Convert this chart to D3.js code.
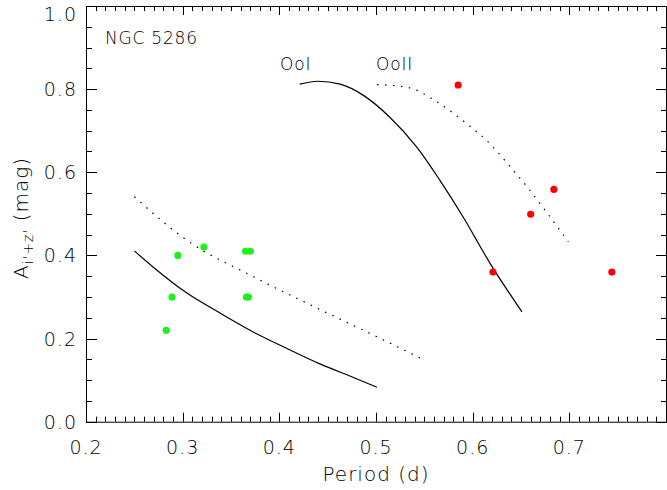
<!DOCTYPE html>
<html><head><meta charset="utf-8">
<script src="https://cdn.jsdelivr.net/npm/d3@7"></script>
<style>
html,body{margin:0;padding:0;background:#fff;}
svg{display:block;}
text{font-family:"DejaVu Sans",sans-serif;font-weight:200;fill:#000;}
</style></head>
<body>
<svg id="c" width="667" height="490"></svg>
<script>
// ---- data ----
const ooGreenPeriod = [0.283, 0.289, 0.295, 0.322, 0.365, 0.370, 0.366, 0.368];
const ooGreenAmp    = [0.22, 0.30, 0.40, 0.42, 0.41, 0.41, 0.30, 0.30];
const ooRedPeriod   = [0.585, 0.684, 0.660, 0.621, 0.744];
const ooRedAmp      = [0.81, 0.559, 0.499, 0.36, 0.36];
// OoI locus (solid, upper) sampled from the figure
const ooIUpperP = [0.421, 0.440, 0.463, 0.487, 0.514, 0.542, 0.566, 0.590, 0.618, 0.651];
const ooIUpperA = [0.812, 0.819, 0.812, 0.785, 0.733, 0.661, 0.581, 0.493, 0.381, 0.264];
// OoII locus (dotted, upper)
const ooIIUpperP = [0.501, 0.533, 0.564, 0.590, 0.616, 0.639, 0.659, 0.678, 0.699];
const ooIIUpperA = [0.811, 0.804, 0.768, 0.724, 0.673, 0.613, 0.557, 0.499, 0.433];
// lower solid curve
const lowSolidP = [0.250, 0.270, 0.304, 0.339, 0.373, 0.408, 0.442, 0.476, 0.501];
const lowSolidA = [0.411, 0.371, 0.310, 0.261, 0.216, 0.176, 0.139, 0.107, 0.083];
// lower dotted curve
const lowDotP = [0.250, 0.304, 0.373, 0.442, 0.495, 0.546];
const lowDotA = [0.541, 0.437, 0.349, 0.270, 0.211, 0.153];
const xTicks = [0.2, 0.3, 0.4, 0.5, 0.6, 0.7];
const yTicks = [0.0, 0.2, 0.4, 0.6, 0.8, 1.0];

const svg = d3.select("#c");
const L = 86, R = 666, T = 6, B = 421.7;
const x = d3.scaleLinear().domain([0.2, 0.8]).range([L, R]);
const y = d3.scaleLinear().domain([0, 1]).range([B, T]);

// frame
const g = svg.append("g");
g.append("rect").attr("x",L+0.5).attr("y",T+0.5).attr("width",R-L).attr("height",B-T)
 .attr("fill","none").attr("stroke","#000");

// ticks
const xMinor = d3.range(0, 61).map(i => 0.2 + i*0.01);
const yMinor = d3.range(0, 21).map(i => i*0.05);
const isMajX = v => Math.abs(v*10 - Math.round(v*10)) < 1e-6;
xMinor.forEach(v => {
  const px = Math.round(x(v)) + 0.5, len = isMajX(v) ? 9 : 5;
  g.append("line").attr("x1",px).attr("x2",px).attr("y1",B).attr("y2",B-len).attr("stroke","#000");
  g.append("line").attr("x1",px).attr("x2",px).attr("y1",T).attr("y2",T+len).attr("stroke","#000");
});
yMinor.forEach(v => {
  const py = Math.round(y(v)) + 0.5, maj = Math.abs(v*5 - Math.round(v*5)) < 1e-6;
  g.append("line").attr("x1",L).attr("x2",L+(maj?11:6)).attr("y1",py).attr("y2",py).attr("stroke","#000");
  g.append("line").attr("x1",R).attr("x2",R-(maj?10:5)).attr("y1",py).attr("y2",py).attr("stroke","#000");
});

// tick labels
const fs = 19;
xTicks.forEach(v => {
  g.append("text").attr("x", x(v)).attr("y", 454).attr("text-anchor","middle")
   .attr("font-size", fs).attr("letter-spacing", 1).text(v.toFixed(1));
});
yTicks.forEach(v => {
  const off = v === 1.0 ? 15 : 7;
  g.append("text").attr("x", 77).attr("y", y(v) + off).attr("text-anchor","end")
   .attr("font-size", fs).attr("letter-spacing", 1).text(v.toFixed(1));
});

// axis titles
g.append("text").attr("x", 376).attr("y", 481).attr("text-anchor","middle")
 .attr("font-size", 20).attr("letter-spacing", 1).text("Period (d)");
const yt = g.append("text").attr("transform","translate(28,218) rotate(-90)")
 .attr("text-anchor","middle").attr("font-size", 20).attr("letter-spacing", 1);
yt.append("tspan").text("A");
yt.append("tspan").attr("font-size", 14).attr("dy", 5).text("i'+z'");
yt.append("tspan").attr("dy", -5).text(" (mag)");

// curves
const line = d3.line().x(d => x(d[0])).y(d => y(d[1])).curve(d3.curveMonotoneX);
const mk = (P, A) => P.map((p, i) => [p, A[i]]);
g.append("path").attr("d", line(mk(ooIUpperP, ooIUpperA))).attr("fill","none").attr("stroke","#000").attr("stroke-width",1.2);
g.append("path").attr("d", line(mk(lowSolidP, lowSolidA))).attr("fill","none").attr("stroke","#000").attr("stroke-width",1.2);
g.append("path").attr("d", line(mk(ooIIUpperP, ooIIUpperA))).attr("fill","none").attr("stroke","#000").attr("stroke-width",1.2).attr("stroke-dasharray","1.5,6.5");
g.append("path").attr("d", line(mk(lowDotP, lowDotA))).attr("fill","none").attr("stroke","#000").attr("stroke-width",1.2).attr("stroke-dasharray","1.5,6.5");

// points
g.selectAll("circle.g").data(mk(ooGreenPeriod, ooGreenAmp)).enter().append("circle")
 .attr("cx", d => x(d[0])).attr("cy", d => y(d[1])).attr("r", 3.6).attr("fill", "#1ef01e");
g.selectAll("circle.r").data(mk(ooRedPeriod, ooRedAmp)).enter().append("circle")
 .attr("cx", d => x(d[0])).attr("cy", d => y(d[1])).attr("r", 3.6).attr("fill", "#ff0000");

// annotations
g.append("text").attr("x", 105).attr("y", 44).attr("font-size", 17).attr("letter-spacing", 0.8).text("NGC 5286");
g.append("text").attr("x", 280).attr("y", 70).attr("font-size", 17).attr("letter-spacing", 0.8).text("OoI");
g.append("text").attr("x", 376).attr("y", 70).attr("font-size", 17).attr("letter-spacing", 0.8).text("OoII");
</script>
</body></html>
